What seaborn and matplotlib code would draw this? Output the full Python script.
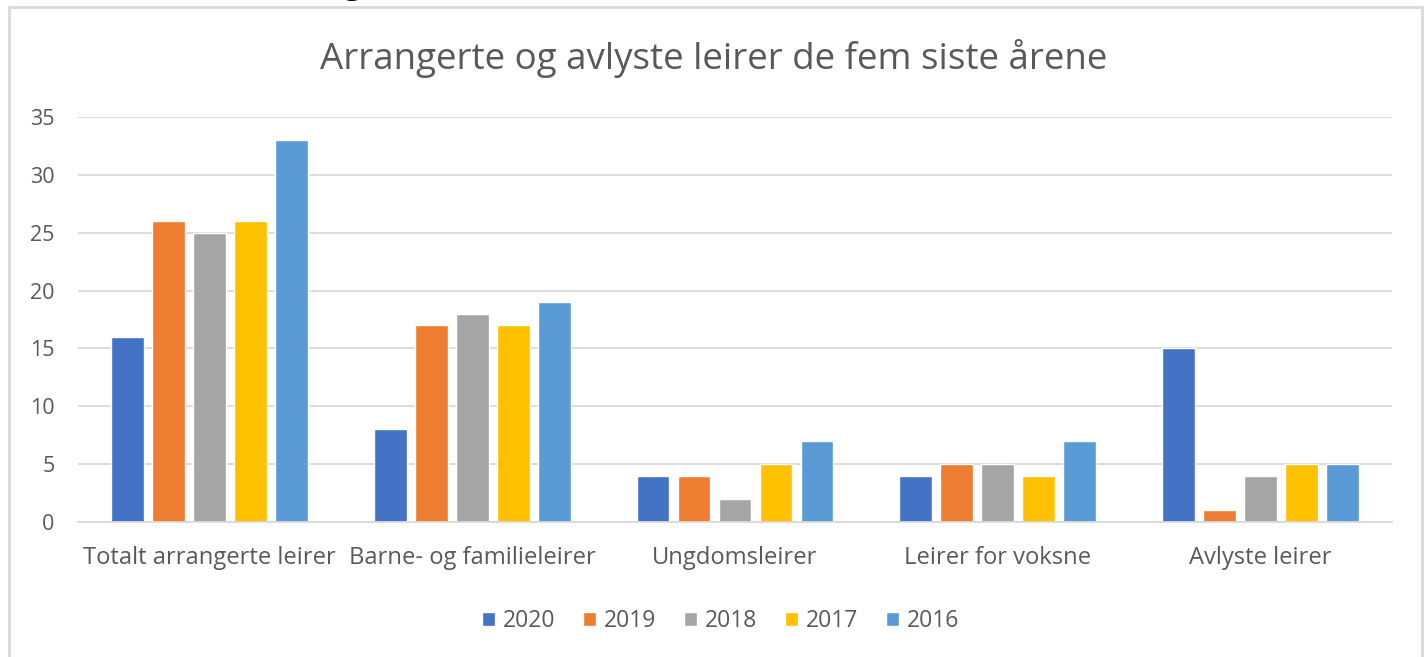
import matplotlib
matplotlib.use("Agg")
import matplotlib.pyplot as plt
import seaborn as sns
import pandas as pd
from matplotlib.patches import Rectangle

categories = ["Totalt arrangerte leirer", "Barne- og familieleirer", "Ungdomsleirer",
              "Leirer for voksne", "Avlyste leirer"]
years = ["2020", "2019", "2018", "2017", "2016"]
v2020 = [16, 8, 4, 4, 15]
v2019 = [26, 17, 4, 5, 1]
v2018 = [25, 18, 2, 5, 4]
v2017 = [26, 17, 5, 4, 5]
v2016 = [33, 19, 7, 7, 5]
colors = ["#4472C4", "#ED7D31", "#A5A5A5", "#FFC000", "#5B9BD5"]
yticks = [0, 5, 10, 15, 20, 25, 30, 35]

series = dict(zip(years, [v2020, v2019, v2018, v2017, v2016]))
rows = []
for y in years:
    for c, v in zip(categories, series[y]):
        rows.append({"Kategori": c, "År": y, "Antall": v})
df = pd.DataFrame(rows)

sns.set_theme(style="white")
plt.rcParams["font.family"] = ["Open Sans", "DejaVu Sans"]
txt = "#595959"
grid = "#D9D9D9"

fig = plt.figure(figsize=(14.27, 6.57), dpi=100)
ax = fig.add_axes([0.0547, 0.2055, 0.9208, 0.6165])
sns.barplot(data=df, x="Kategori", y="Antall", hue="År", hue_order=years,
            order=categories, palette=colors, width=0.78, gap=0.2,
            saturation=1, ax=ax, legend=True)

ax.set_ylim(0, 35)
ax.set_xlim(-0.5, 4.5)
ax.set_yticks(yticks)
ax.set_yticklabels([str(t) for t in yticks])
ax.yaxis.grid(True, color=grid, linewidth=1.3)
ax.set_axisbelow(True)
for s in ["left", "right", "top"]:
    ax.spines[s].set_visible(False)
ax.spines["bottom"].set_color(grid)
ax.spines["bottom"].set_linewidth(1.3)
ax.tick_params(axis="both", length=0, colors=txt)
ax.tick_params(axis="x", pad=17.5, labelsize=17.1)
ax.tick_params(axis="y", pad=17, labelsize=15.5)
ax.set_xlabel("")
ax.set_ylabel("")

fig.text(0.5, 0.911, "Arrangerte og avlyste leirer de fem siste årene",
         ha="center", va="center", fontsize=26.5, color=txt)

# cut-off fragment of a heading above the chart
fig.text(352 / 1427, 1 + 8 / 657, "g", ha="center", va="baseline",
         fontsize=26, color="black")

ax.legend(loc="center", bbox_to_anchor=(0.505, 0.055), bbox_transform=fig.transFigure,
          ncol=5, frameon=False, fontsize=16.5, labelcolor=txt,
          handlelength=0.57, handleheight=0.57, handletextpad=0.35, columnspacing=1.2)

fig.patches.append(Rectangle((9 / 1427, -0.05), (1422 - 9) / 1427, 1.05 - 7 / 657,
                             transform=fig.transFigure, fill=False,
                             edgecolor=grid, linewidth=2))

fig.savefig("out.png", dpi=100, facecolor="white")
